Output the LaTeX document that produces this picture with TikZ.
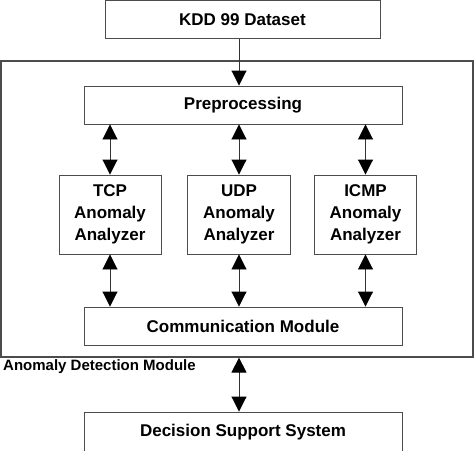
\documentclass[tikz,border=0pt]{standalone}
\usepackage{fontspec}
\setmainfont{Liberation Sans}
\usetikzlibrary{arrows.meta}
\begin{document}
\begin{tikzpicture}[x=1pt,y=-1pt,
  box/.style={draw=black!70,line width=0.9pt,rectangle,inner sep=0pt,align=center,
    font=\fontsize{17}{22}\selectfont\bfseries},
  conn/.style={draw=black!80,line width=0.9pt},
  tip/.style={-{Triangle[width=15pt,length=15pt,color=black]}},
  biarrow/.style={{Triangle[width=15pt,length=15pt,color=black]}-{Triangle[width=15pt,length=15pt,color=black]}}]
\useasboundingbox (0,0) rectangle (474,450);
\node[box,minimum width=275pt,minimum height=38pt] (kdd) at (242.5,19.5) {KDD 99 Dataset};
\node[draw=black!70,line width=1.2pt,minimum width=472pt,minimum height=296pt,inner sep=0pt] (outer) at (237,209) {};
\node[box,minimum width=318pt,minimum height=38pt] (pre) at (243,105) {\raisebox{-2pt}{Preprocessing}};
\node[box,minimum width=102pt,minimum height=79pt] (tcp) at (110,214.5) {\raisebox{-2pt}{TCP}\\\raisebox{-2pt}{Anomaly}\\\raisebox{-2pt}{Analyzer}};
\node[box,minimum width=103pt,minimum height=79pt] (udp) at (239,214.5) {\raisebox{-2pt}{UDP}\\\raisebox{-2pt}{Anomaly}\\\raisebox{-2pt}{Analyzer}};
\node[box,minimum width=102pt,minimum height=79pt] (icmp) at (365.5,214.5) {\raisebox{-2pt}{ICMP}\\\raisebox{-2pt}{Anomaly}\\\raisebox{-2pt}{Analyzer}};
\node[box,minimum width=318pt,minimum height=38pt] (comm) at (243,326) {\raisebox{-2pt}{Communication Module}};
\node[box,minimum width=318pt,minimum height=40pt] (dss) at (243,432) {Decision Support System};
\node[anchor=west,inner sep=0pt,font=\fontsize{15}{18}\selectfont\bfseries] (adm) at (3,367) {Anomaly Detection Module};
\draw[conn,tip] (kdd.south -| udp.north) -- (pre.north -| udp.north);
\foreach \n in {tcp,udp,icmp}{
  \draw[conn,biarrow] (pre.south -| \n.north) -- (\n.north);
  \draw[conn,biarrow] (\n.south) -- (comm.north -| \n.south);
}
\draw[conn,biarrow] (outer.south -| udp.north) -- (dss.north -| udp.north);
\end{tikzpicture}
\end{document}
